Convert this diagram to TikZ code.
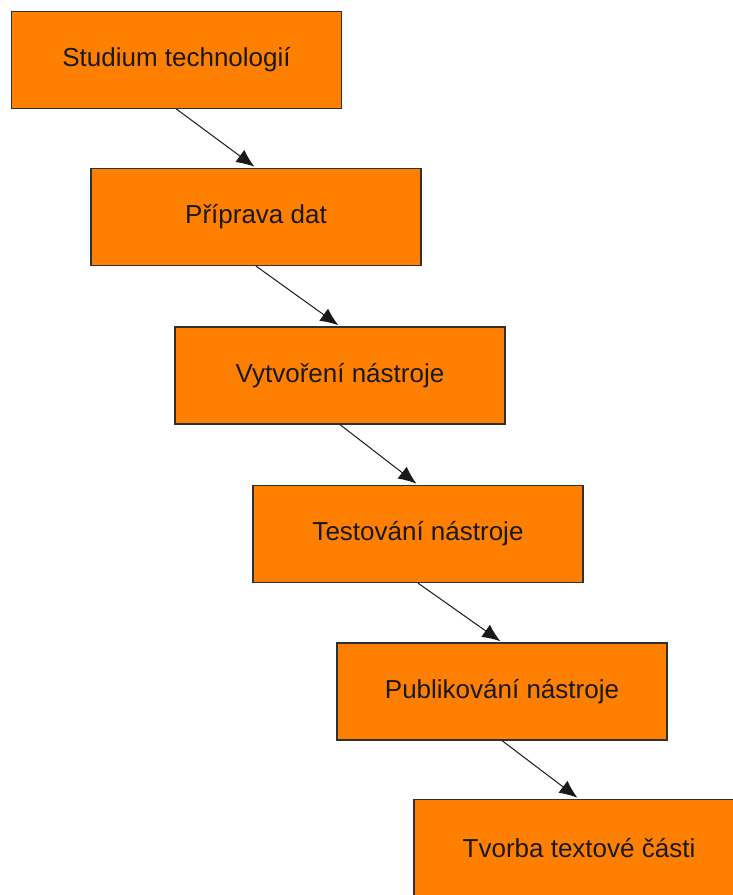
\documentclass[tikz,border=0pt]{standalone}
\usepackage{fontspec}
\setmainfont{Liberation Sans}
\usetikzlibrary{arrows.meta}
\definecolor{boxorange}{HTML}{FF8000}
\definecolor{edgegray}{HTML}{303030}
\begin{document}
\begin{tikzpicture}[x=1pt,y=-1pt,
  stepbox/.style={draw=edgegray, line width=1.2pt, fill=boxorange, rectangle,
    minimum width=330pt, minimum height=97pt, inner sep=0pt,
    font=\fontsize{26}{30}\selectfont, text=black!90},
  flow/.style={draw=black!90, line width=1pt, shorten >=2pt, -{Latex[length=18pt,width=15pt]}}]
\useasboundingbox (0,0) rectangle (733,895);
\node[stepbox] (b1) at (176.5,60) {Studium technologií};
\node[stepbox] (b2) at (256,217) {Příprava dat};
\node[stepbox] (b3) at (340,375.5) {Vytvoření nástroje};
\node[stepbox] (b4) at (418,534) {Testování nástroje};
\node[stepbox] (b5) at (502,691.5) {Publikování nástroje};
\node[stepbox] (b6) at (579,848) {Tvorba textové části};
\draw[flow] (b1.south) -- (b2.north);
\draw[flow] (b2.south) -- (b3.north);
\draw[flow] (b3.south) -- (b4.north);
\draw[flow] (b4.south) -- (b5.north);
\draw[flow] (b5.south) -- (b6.north);
\end{tikzpicture}
\end{document}
